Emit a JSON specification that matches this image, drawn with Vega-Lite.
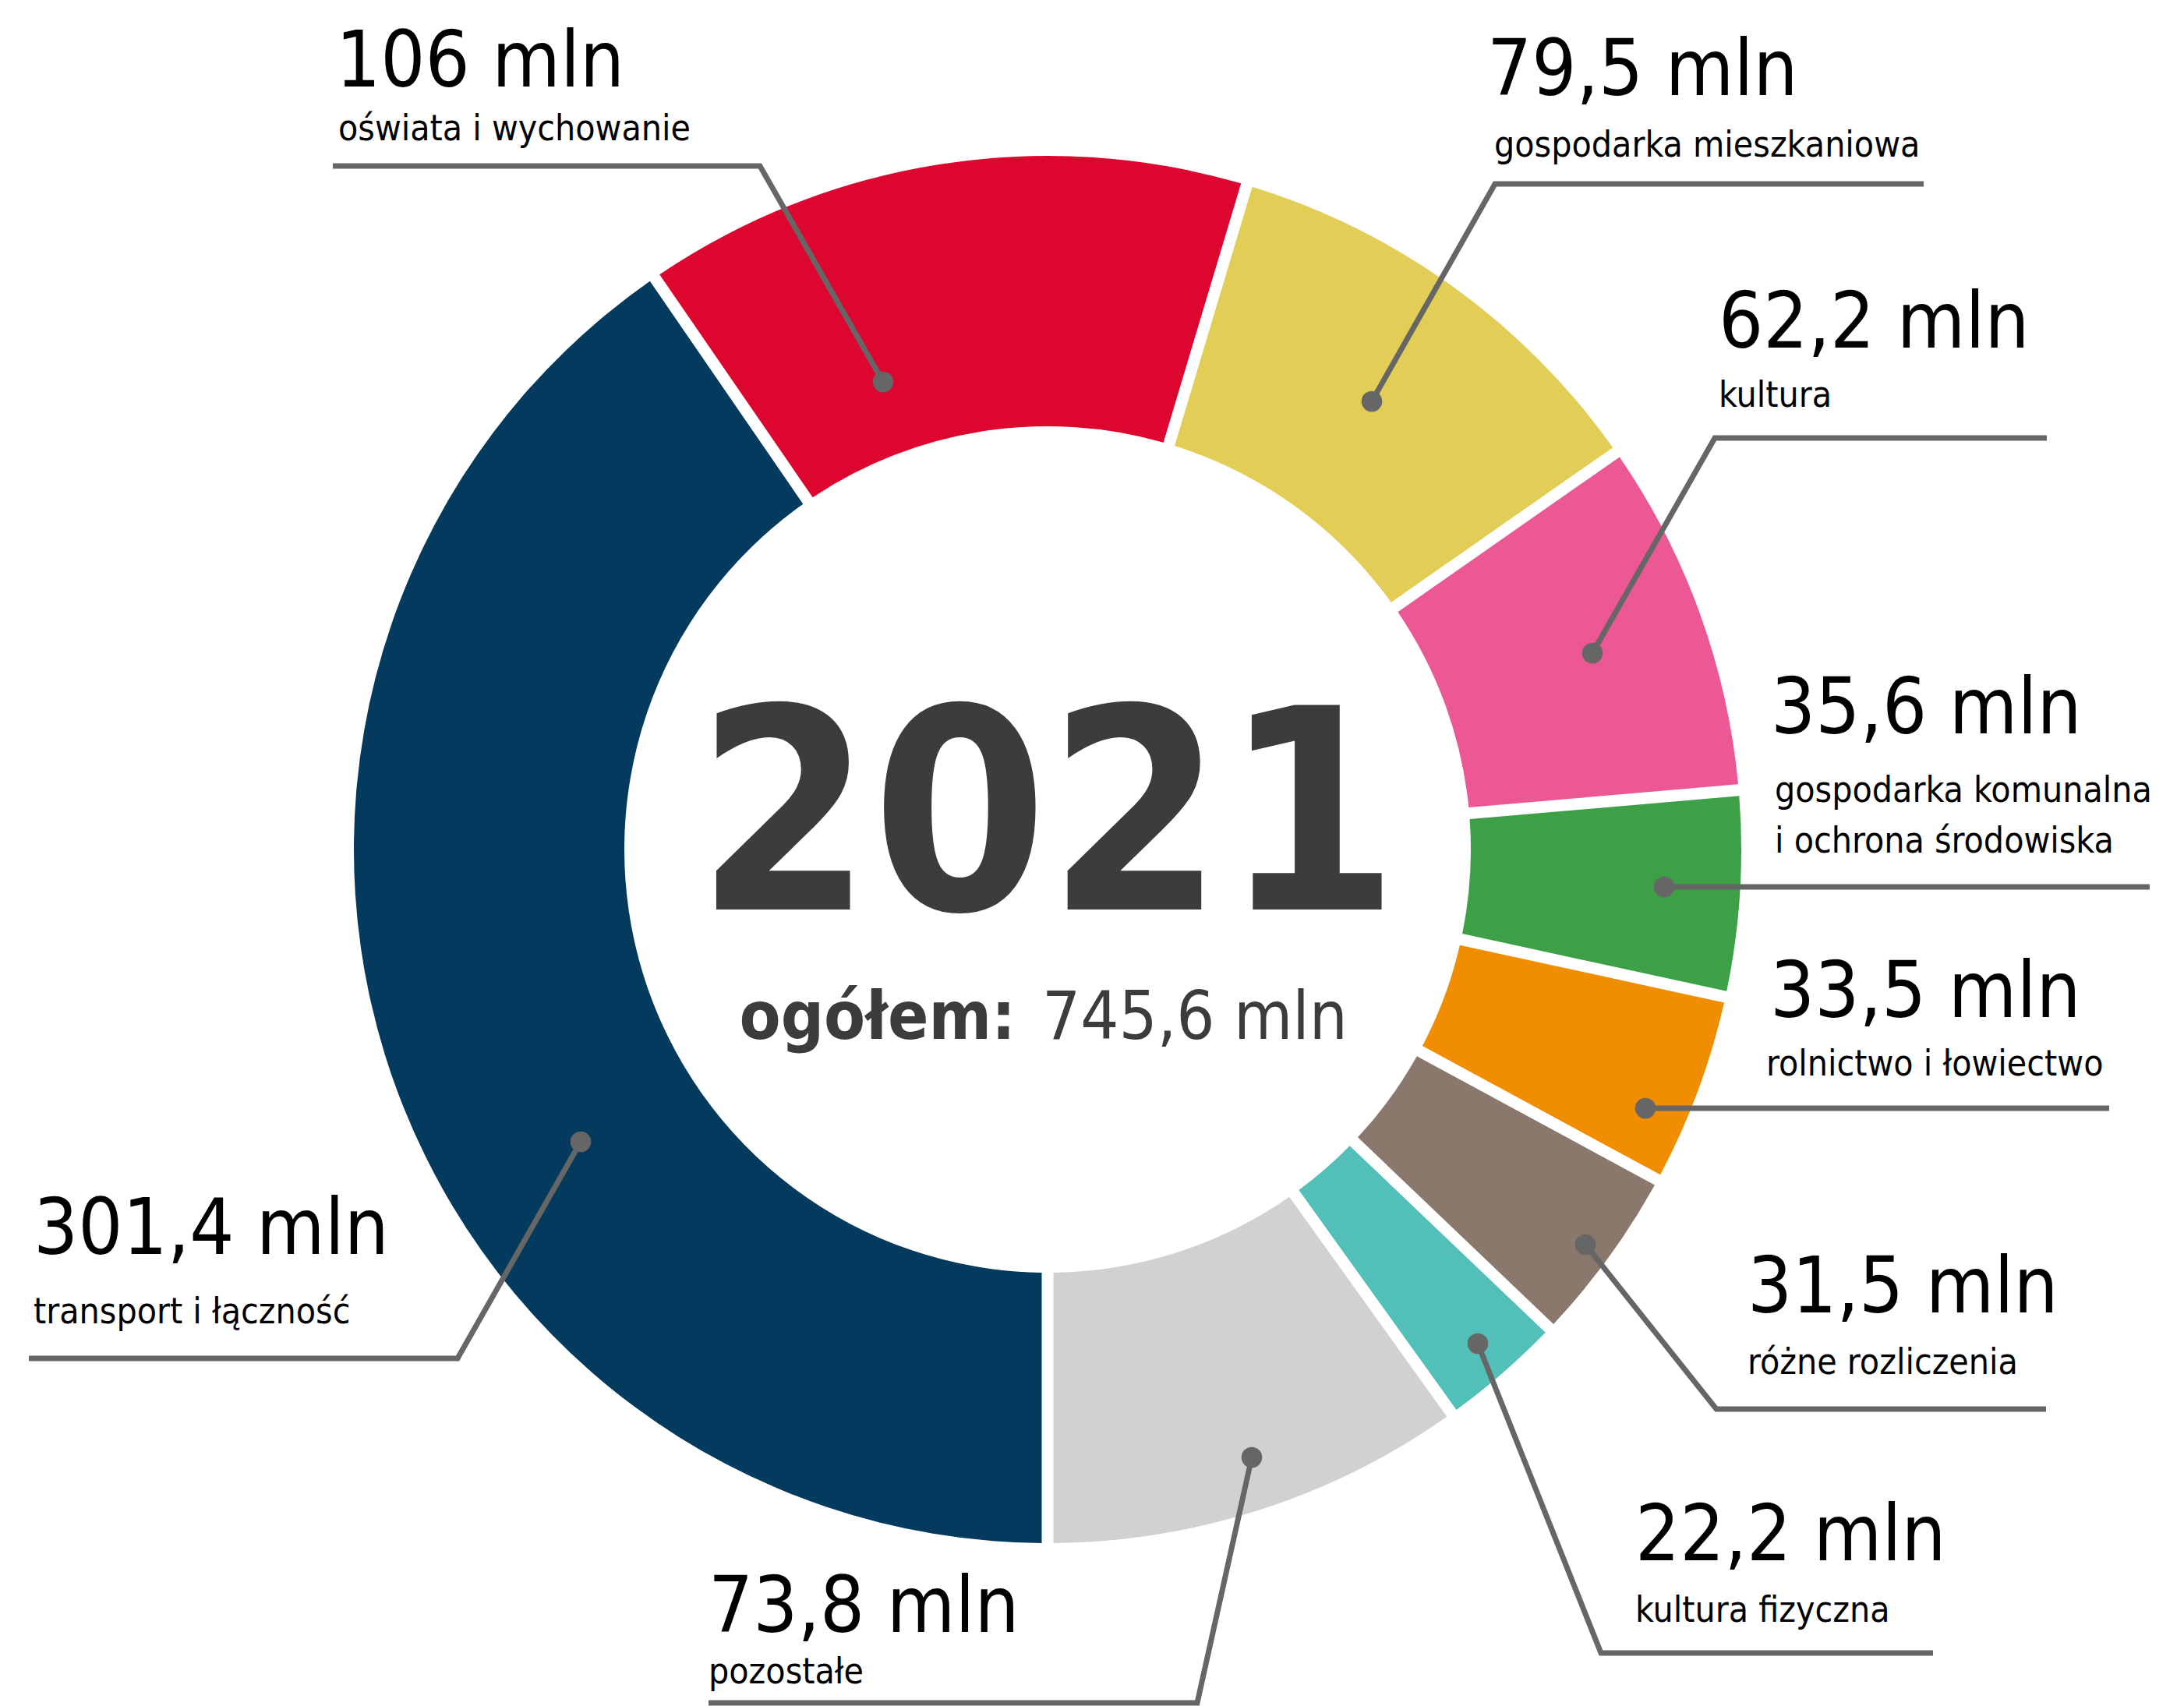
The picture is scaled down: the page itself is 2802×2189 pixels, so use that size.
{
  "$schema": "https://vega.github.io/schema/vega-lite/v6.json",
  "width": 2688,
  "height": 2180,
  "autosize": "none",
  "padding": {"left": 0, "top": 0, "right": 114, "bottom": 9},
  "background": "white",
  "config": {"view": {"stroke": null}},
  "datasets": {
    "segments": [
      {"category": "transport i łączność", "value": 301.4, "idx": 1},
      {"category": "oświata i wychowanie", "value": 106, "idx": 2},
      {"category": "gospodarka mieszkaniowa", "value": 79.5, "idx": 3},
      {"category": "kultura", "value": 62.2, "idx": 4},
      {"category": "gospodarka komunalna i ochrona środowiska", "value": 35.6, "idx": 5},
      {"category": "rolnictwo i łowiectwo", "value": 33.5, "idx": 6},
      {"category": "różne rozliczenia", "value": 31.5, "idx": 7},
      {"category": "kultura fizyczna", "value": 22.2, "idx": 8},
      {"category": "pozostałe", "value": 73.8, "idx": 9}
    ],
    "labels": [
      {"category": "transport i łączność", "amount": "301,4 mln", "name": "transport i łączność", "vx": -1301, "vy": 519, "nx": -1301, "ny": 608},
      {"category": "oświata i wychowanie", "amount": "106 mln", "name": "oświata i wychowanie", "vx": -913, "vy": -979, "nx": -910, "ny": -910},
      {"category": "gospodarka mieszkaniowa", "amount": "79,5 mln", "name": "gospodarka mieszkaniowa", "vx": 564, "vy": -968, "nx": 573, "ny": -889},
      {"category": "kultura", "amount": "62,2 mln", "name": "kultura", "vx": 861, "vy": -644, "nx": 861, "ny": -568},
      {"category": "gospodarka komunalna i ochrona środowiska", "amount": "35,6 mln", "name": "gospodarka komunalna\ni ochrona środowiska", "vx": 928, "vy": -149, "nx": 933, "ny": -61},
      {"category": "rolnictwo i łowiectwo", "amount": "33,5 mln", "name": "rolnictwo i łowiectwo", "vx": 927, "vy": 215, "nx": 922, "ny": 290},
      {"category": "różne rozliczenia", "amount": "31,5 mln", "name": "różne rozliczenia", "vx": 898, "vy": 594, "nx": 898, "ny": 673},
      {"category": "kultura fizyczna", "amount": "22,2 mln", "name": "kultura fizyczna", "vx": 754, "vy": 912, "nx": 754, "ny": 991},
      {"category": "pozostałe", "amount": "73,8 mln", "name": "pozostałe", "vx": -435, "vy": 1004, "nx": -435, "ny": 1070}
    ],
    "leaders": [
      {"category": "transport i łączność", "seq": 0, "x": -599, "y": 375},
      {"category": "transport i łączność", "seq": 1, "x": -757, "y": 653},
      {"category": "transport i łączność", "seq": 2, "x": -1307, "y": 653},
      {"category": "oświata i wychowanie", "seq": 0, "x": -211, "y": -600},
      {"category": "oświata i wychowanie", "seq": 1, "x": -369, "y": -877},
      {"category": "oświata i wychowanie", "seq": 2, "x": -917, "y": -877},
      {"category": "gospodarka mieszkaniowa", "seq": 0, "x": 416, "y": -575},
      {"category": "gospodarka mieszkaniowa", "seq": 1, "x": 574, "y": -854},
      {"category": "gospodarka mieszkaniowa", "seq": 2, "x": 1124, "y": -854},
      {"category": "kultura", "seq": 0, "x": 699, "y": -252},
      {"category": "kultura", "seq": 1, "x": 856, "y": -528},
      {"category": "kultura", "seq": 2, "x": 1282, "y": -528},
      {"category": "gospodarka komunalna i ochrona środowiska", "seq": 0, "x": 791, "y": 48},
      {"category": "gospodarka komunalna i ochrona środowiska", "seq": 1, "x": 1414, "y": 48},
      {"category": "rolnictwo i łowiectwo", "seq": 0, "x": 767, "y": 332},
      {"category": "rolnictwo i łowiectwo", "seq": 1, "x": 1362, "y": 332},
      {"category": "różne rozliczenia", "seq": 0, "x": 690, "y": 507},
      {"category": "różne rozliczenia", "seq": 1, "x": 858, "y": 718},
      {"category": "różne rozliczenia", "seq": 2, "x": 1281, "y": 718},
      {"category": "kultura fizyczna", "seq": 0, "x": 552, "y": 634},
      {"category": "kultura fizyczna", "seq": 1, "x": 710, "y": 1031},
      {"category": "kultura fizyczna", "seq": 2, "x": 1136, "y": 1031},
      {"category": "pozostałe", "seq": 0, "x": 262, "y": 780},
      {"category": "pozostałe", "seq": 1, "x": 192, "y": 1095},
      {"category": "pozostałe", "seq": 2, "x": -435, "y": 1095}
    ],
    "center": [
      {"text": "2021", "x": 0, "y": 77, "part": "year"},
      {"text": "ogółem:", "x": -41, "y": 243, "part": "bold"},
      {"text": "745,6 mln", "x": -7, "y": 243, "part": "regular"}
    ]
  },
  "layer": [
    {
      "data": {"name": "segments"},
      "mark": {"type": "arc", "outerRadius": 890, "innerRadius": 543, "padAngle": 0.0144},
      "encoding": {
        "theta": {"field": "value", "type": "quantitative", "stack": true, "scale": {"range": [3.14159265, 9.42477796]}},
        "color": {
          "field": "category", "type": "nominal", "legend": null,
          "scale": {
            "domain": ["transport i łączność", "oświata i wychowanie", "gospodarka mieszkaniowa", "kultura", "gospodarka komunalna i ochrona środowiska", "rolnictwo i łowiectwo", "różne rozliczenia", "kultura fizyczna", "pozostałe"],
            "range": ["#033A5D", "#DC062E", "#E2CE57", "#EB5893", "#3DA046", "#F08D00", "#8A786D", "#52BFB9", "#D1D1D1"]
          }
        },
        "order": {"field": "idx", "type": "quantitative"}
      }
    },
    {
      "data": {"name": "leaders"},
      "mark": {"type": "line", "color": "#666666", "strokeWidth": 7, "strokeJoin": "miter", "strokeCap": "butt"},
      "encoding": {
        "x": {"field": "x", "type": "quantitative", "scale": {"domain": [-1344, 1344], "nice": false, "zero": false}, "axis": null},
        "y": {"field": "y", "type": "quantitative", "scale": {"domain": [-1090, 1090], "nice": false, "zero": false, "reverse": true}, "axis": null},
        "detail": {"field": "category", "type": "nominal"},
        "order": {"field": "seq", "type": "quantitative"}
      }
    },
    {
      "data": {"name": "leaders"},
      "transform": [{"filter": "datum.seq == 0"}],
      "mark": {"type": "circle", "color": "#666666", "opacity": 1, "size": 707},
      "encoding": {
        "x": {"field": "x", "type": "quantitative"},
        "y": {"field": "y", "type": "quantitative"}
      }
    },
    {
      "data": {"name": "labels"},
      "mark": {"type": "text", "align": "left", "baseline": "alphabetic", "font": "DejaVu Sans Condensed, sans-serif", "fontSize": 100, "color": "#000000"},
      "encoding": {
        "x": {"field": "vx", "type": "quantitative"},
        "y": {"field": "vy", "type": "quantitative"},
        "text": {"field": "amount", "type": "nominal"}
      }
    },
    {
      "data": {"name": "labels"},
      "mark": {"type": "text", "align": "left", "baseline": "alphabetic", "font": "DejaVu Sans Condensed, sans-serif", "fontSize": 46, "lineBreak": "\n", "lineHeight": 65, "color": "#000000"},
      "encoding": {
        "x": {"field": "nx", "type": "quantitative"},
        "y": {"field": "ny", "type": "quantitative"},
        "text": {"field": "name", "type": "nominal"}
      }
    },
    {
      "data": {"name": "center"},
      "transform": [{"filter": "datum.part == 'year'"}],
      "mark": {"type": "text", "align": "center", "baseline": "alphabetic", "font": "DejaVu Sans Condensed, sans-serif", "fontWeight": "bold", "fontSize": 360, "color": "#3C3C3A"},
      "encoding": {
        "x": {"field": "x", "type": "quantitative"},
        "y": {"field": "y", "type": "quantitative"},
        "text": {"field": "text", "type": "nominal"}
      }
    },
    {
      "data": {"name": "center"},
      "transform": [{"filter": "datum.part == 'bold'"}],
      "mark": {"type": "text", "align": "right", "baseline": "alphabetic", "font": "DejaVu Sans Condensed, sans-serif", "fontWeight": "bold", "fontSize": 86, "color": "#3C3C3A"},
      "encoding": {
        "x": {"field": "x", "type": "quantitative"},
        "y": {"field": "y", "type": "quantitative"},
        "text": {"field": "text", "type": "nominal"}
      }
    },
    {
      "data": {"name": "center"},
      "transform": [{"filter": "datum.part == 'regular'"}],
      "mark": {"type": "text", "align": "left", "baseline": "alphabetic", "font": "DejaVu Sans Condensed, sans-serif", "fontSize": 86, "color": "#3C3C3A"},
      "encoding": {
        "x": {"field": "x", "type": "quantitative"},
        "y": {"field": "y", "type": "quantitative"},
        "text": {"field": "text", "type": "nominal"}
      }
    }
  ]
}
